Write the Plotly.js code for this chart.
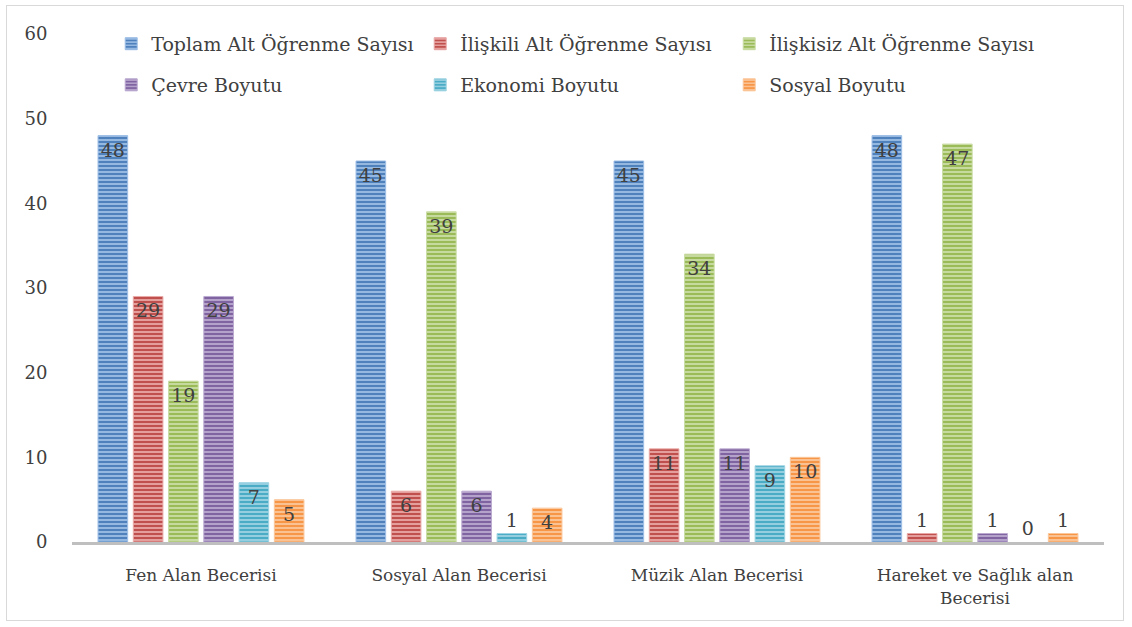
<!DOCTYPE html>
<html>
<head>
<meta charset="utf-8">
<script src="https://cdn.plot.ly/plotly-3.0.1.min.js"></script>
<style>
html,body{margin:0;padding:0;background:#fff;}
#wrap{position:relative;width:1132px;height:627px;}
#chart{width:1132px;height:627px;}
#frame{position:absolute;left:6px;top:5px;width:1116px;height:614px;border:1px solid #d9d9d9;pointer-events:none;}
</style>
</head>
<body>
<div id="wrap"><div id="chart"></div><div id="frame"></div></div>
<script>
const categories = ["Fen Alan Becerisi", "Sosyal Alan Becerisi", "Müzik Alan Becerisi", "Hareket ve Sağlık alan<br>Becerisi"];
const seriesNames = ["Toplam Alt Öğrenme Sayısı", "İlişkili Alt Öğrenme Sayısı", "İlişkisiz Alt Öğrenme Sayısı", "Çevre Boyutu", "Ekonomi Boyutu", "Sosyal Boyutu"];
const toplam   = [48, 45, 45, 48];
const iliskili = [29, 6, 11, 1];
const iliskisiz= [19, 39, 34, 47];
const cevre    = [29, 6, 11, 1];
const ekonomi  = [7, 1, 9, 0];
const sosyal   = [5, 4, 10, 1];
const seriesValues = [toplam, iliskili, iliskisiz, cevre, ekonomi, sosyal];
const baseColors  = ["#4F81BD", "#C0504D", "#9BBB59", "#8064A2", "#4BACC6", "#F79646"];
const lightColors = ["#9DBEE6", "#E8A8A6", "#CBDDA6", "#BBA9D0", "#9DD3E2", "#FBC79C"];
const yTicks = [0, 10, 20, 30, 40, 50, 60];

const FONT = "DejaVu Serif, serif";
const traces = seriesValues.map((vals, i) => ({
  type: "bar",
  name: seriesNames[i],
  x: categories,
  y: vals,
  text: vals.map(String),
  textposition: vals.map(v => v >= 4 ? "inside" : "outside"),
  insidetextanchor: "end",
  textangle: 0,
  constraintext: "none",
  cliponaxis: false,
  textfont: {family: FONT, size: 19, color: "#404040"},
  insidetextfont: {family: FONT, size: 19, color: "#404040"},
  outsidetextfont: {family: FONT, size: 19, color: "#404040"},
  marker: {
    color: baseColors[i],
    line: {color: lightColors[i], width: vals.map(v => v > 0 ? 1 : 0)},
    pattern: {shape: "-", fgcolor: lightColors[i], bgcolor: baseColors[i], size: 4, solidity: 0.45}
  },
  legend: i < 3 ? "legend" : "legend2",
  hoverinfo: "x+y+name"
}));

const legendCommon = {
  orientation: "h", xanchor: "left", yanchor: "top",
  entrywidth: 264, entrywidthmode: "pixels",
  font: {family: FONT, size: 19, color: "#404040"},
  bgcolor: "rgba(0,0,0,0)", itemwidth: 30, traceorder: "normal"
};

const layout = {
  width: 1132, height: 627,
  margin: {l: 72, r: 28, t: 34, b: 85},
  paper_bgcolor: "#ffffff",
  plot_bgcolor: "#ffffff",
  barmode: "group",
  bargap: 0.18,
  bargroupgap: 0.16,
  font: {family: FONT, color: "#404040", size: 17},
  xaxis: {
    type: "category",
    showline: true, linecolor: "#bfbfbf", linewidth: 3,
    ticks: "outside", ticklen: 16, tickcolor: "rgba(0,0,0,0)",
    tickfont: {family: FONT, size: 17, color: "#404040"},
    showgrid: false, zeroline: false, fixedrange: true
  },
  yaxis: {
    range: [0, 60],
    tickvals: yTicks,
    ticktext: yTicks.map(String),
    showline: false, showgrid: false, zeroline: false,
    ticks: "outside", ticklen: 20, tickcolor: "rgba(0,0,0,0)",
    tickfont: {family: FONT, size: 18, color: "#404040"},
    fixedrange: true
  },
  legend: Object.assign({x: 0.038, y: 1.018}, legendCommon),
  legend2: Object.assign({x: 0.038, y: 0.937}, legendCommon),
  showlegend: true
};

Plotly.newPlot("chart", traces, layout, {displayModeBar: false, staticPlot: true});
</script>
</body>
</html>
